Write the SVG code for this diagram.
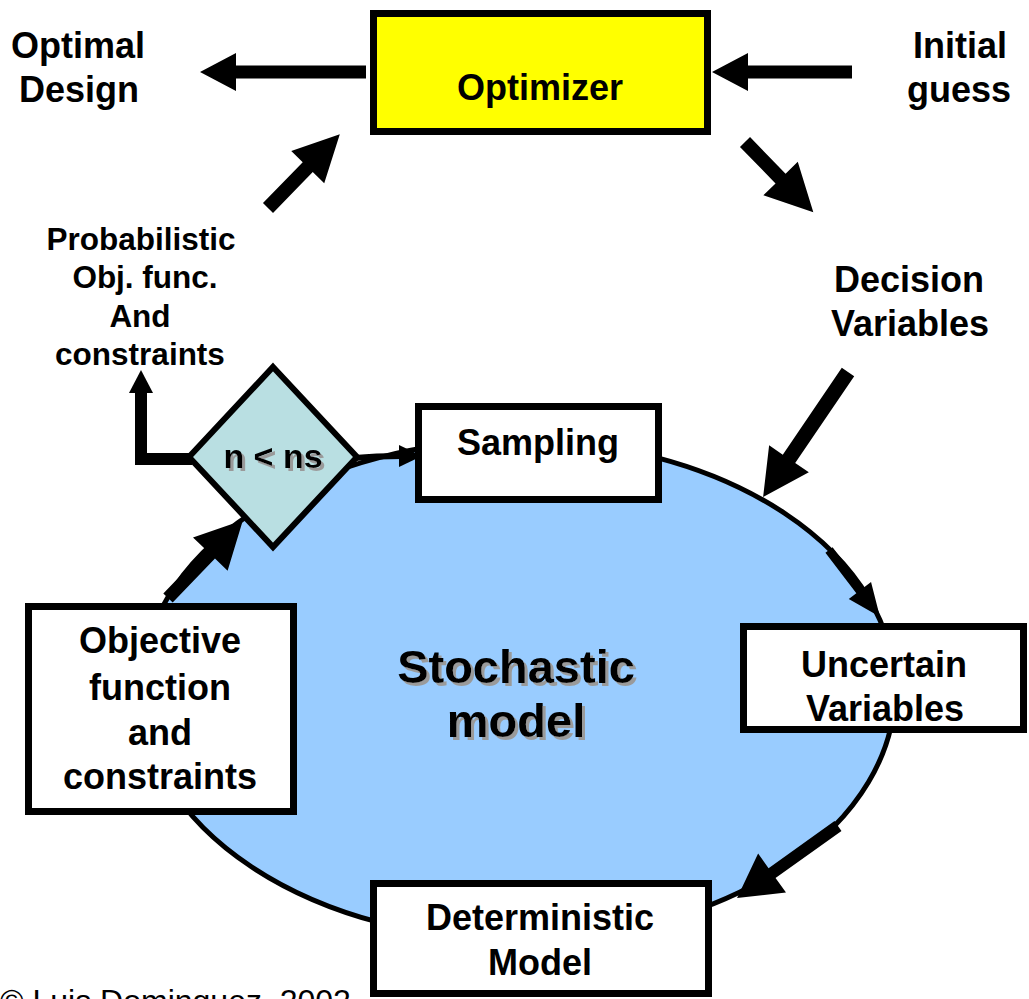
<svg xmlns="http://www.w3.org/2000/svg" width="1029" height="999" viewBox="0 0 1029 999">
  <defs>
    <!-- soft grey drop shadow used on the model title and the loop test -->
    <filter id="textShadow" x="-10%" y="-20%" width="130%" height="150%">
      <feOffset in="SourceAlpha" dx="2.5" dy="2.5" result="off"/>
      <feFlood flood-color="#9a9a9a"/>
      <feComposite in2="off" operator="in" result="shadow"/>
      <feMerge>
        <feMergeNode in="shadow"/>
        <feMergeNode in="SourceGraphic"/>
      </feMerge>
    </filter>
  </defs>
  <style>
    .lbl { font-family: "Liberation Sans", Arial, sans-serif; font-weight: bold; fill: #000; text-anchor: middle; }
    .big { font-size: 36px; }
    .mid { font-size: 31.5px; }
    .shd { filter: url(#textShadow); }
    .box { fill: #fff; stroke: #000; stroke-width: 7; }
    .blk { fill: #000; }
    .copy { font-family: "Liberation Sans", Arial, sans-serif; font-size: 32px; fill: #000; }
  </style>

  <!-- stochastic model ellipse (background) -->
  <g id="stochastic-model">
    <ellipse cx="518" cy="690" rx="377" ry="250" fill="#99CCFF" stroke="#000" stroke-width="5"/>
    <g class="shd">
      <text class="lbl" x="516" y="683" font-size="47">Stochastic</text>
      <text class="lbl" x="516" y="737" font-size="47">model</text>
    </g>
  </g>

  <!-- connectors: block arrows drawn along +x, then placed -->
  <g id="connectors">
    <!-- Optimizer -> Optimal Design -->
    <path class="blk" transform="translate(366,72) rotate(180)" d="M0,-6.5 H130 V-19 L166,0 L130,19 V6.5 H0 Z"/>
    <!-- Initial guess -> Optimizer -->
    <path class="blk" transform="translate(852,72) rotate(180)" d="M0,-6.5 H104 V-19 L140,0 L104,19 V6.5 H0 Z"/>
    <!-- Probabilistic results -> Optimizer -->
    <path class="blk" transform="translate(268,208) rotate(-45.8)" d="M0,-7 H57 V-23 L103,0 L57,23 V7 H0 Z"/>
    <!-- Optimizer -> Decision Variables -->
    <path class="blk" transform="translate(745,142) rotate(45.8)" d="M0,-7 H51 V-24 L98,0 L51,24 V7 H0 Z"/>
    <!-- Decision Variables -> Stochastic model -->
    <path class="blk" transform="translate(848,372) rotate(124.2)" d="M0,-7.5 H105 V-24 L151,0 L105,24 V7.5 H0 Z"/>
    <!-- Stochastic model -> Uncertain Variables -->
    <path class="blk" transform="translate(829,550) rotate(52.7)" d="M0,-4.5 H51 V-14 L84,0 L51,14 V4.5 H0 Z"/>
    <!-- Uncertain Variables -> Deterministic Model -->
    <path class="blk" transform="translate(838,826) rotate(144.5)" d="M0,-6 H81 V-24 L124,0 L81,24 V6 H0 Z"/>
    <!-- Objective function -> n < ns -->
    <path class="blk" transform="translate(168,598) rotate(-46.1)" d="M0,-6.5 H61 V-24 L108,0 L61,24 V6.5 H0 Z"/>
    <!-- n < ns -> Probabilistic (elbow) -->
    <path d="M192,459 H141 V390" fill="none" stroke="#000" stroke-width="12"/>
    <polygon class="blk" points="129,393 153,393 141,370"/>
    <!-- n < ns -> Sampling -->
    <path d="M355,458 Q375,456 402,456" fill="none" stroke="#000" stroke-width="6"/>
    <polygon class="blk" points="399,445 422,456 399,467"/>
  </g>

  <g id="optimizer">
    <rect x="373.5" y="13.5" width="334" height="118" fill="#FFFF00" stroke="#000" stroke-width="7"/>
    <text class="lbl big" x="540" y="100">Optimizer</text>
  </g>

  <g id="optimal-design">
    <text class="lbl big" x="78" y="58">Optimal</text>
    <text class="lbl big" x="79" y="102">Design</text>
  </g>

  <g id="initial-guess">
    <text class="lbl big" x="960" y="58">Initial</text>
    <text class="lbl big" x="959" y="102">guess</text>
  </g>

  <g id="decision-variables">
    <text class="lbl big" x="909" y="292">Decision</text>
    <text class="lbl big" x="910" y="336">Variables</text>
  </g>

  <g id="probabilistic-results">
    <text class="lbl mid" x="141" y="250">Probabilistic</text>
    <text class="lbl mid" x="145" y="288">Obj. func.</text>
    <text class="lbl mid" x="140" y="327">And</text>
    <text class="lbl mid" x="140" y="365">constraints</text>
  </g>

  <g id="decision-n-ns">
    <polygon points="273,367 357,457 273,547 189,457" fill="#B9DFE2" stroke="#000" stroke-width="6"/>
    <text class="lbl shd" x="273" y="468" font-size="34">n &lt; ns</text>
  </g>

  <g id="sampling">
    <rect class="box" x="418.5" y="406.5" width="240" height="93"/>
    <text class="lbl big" x="538" y="455">Sampling</text>
  </g>

  <g id="objective-function">
    <rect class="box" x="28.5" y="606.5" width="265" height="205"/>
    <text class="lbl big" x="160" y="653">Objective</text>
    <text class="lbl big" x="160" y="700">function</text>
    <text class="lbl big" x="160" y="745">and</text>
    <text class="lbl big" x="160" y="789">constraints</text>
  </g>

  <g id="uncertain-variables">
    <rect class="box" x="743.5" y="626.5" width="280" height="103"/>
    <text class="lbl big" x="884" y="677">Uncertain</text>
    <text class="lbl big" x="885" y="721">Variables</text>
  </g>

  <g id="deterministic-model">
    <rect class="box" x="373.5" y="883.5" width="335" height="110"/>
    <text class="lbl big" x="540" y="930">Deterministic</text>
    <text class="lbl big" x="540" y="975">Model</text>
  </g>

  <text class="copy" x="0" y="1012">© Luis Dominguez, 2002</text>
</svg>
